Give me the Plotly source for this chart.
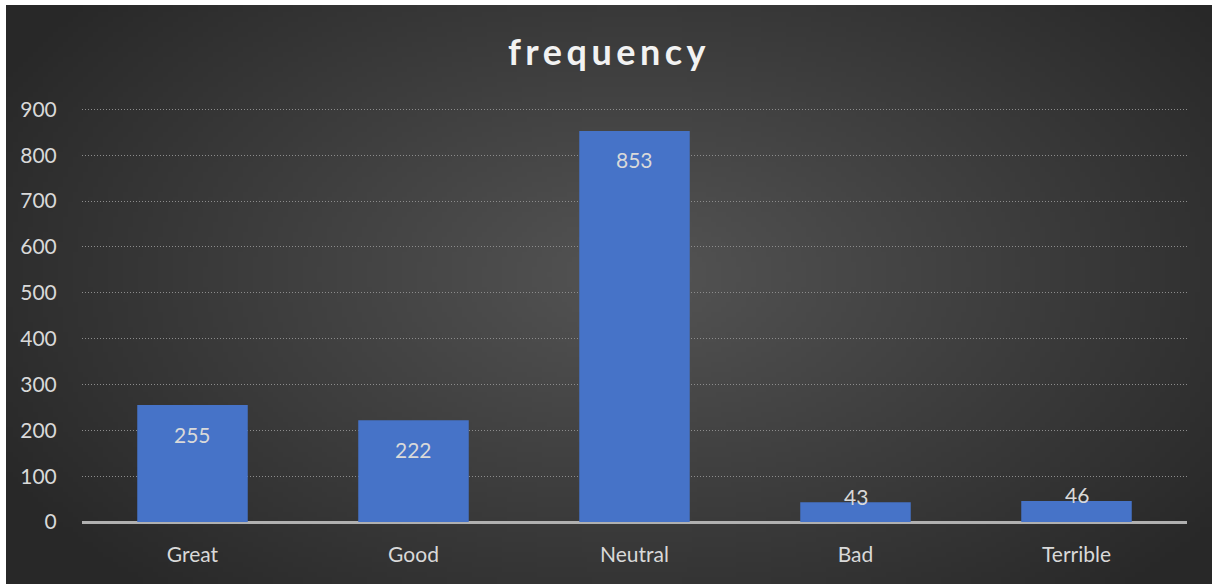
import base64
import struct
import zlib

import plotly.graph_objects as go

# ---- data ----
categories = ["Great", "Good", "Neutral", "Bad", "Terrible"]
frequency = [255, 222, 853, 43, 46]
y_ticks = [0, 100, 200, 300, 400, 500, 600, 700, 800, 900]
title_text = "frequency"

# ---- layout geometry (pixels) ----
W, H = 1212, 584
ML, MR, MT, MB = 82, 25, 108, 62
PW, PH = W - ML - MR, H - MT - MB
FONT = "Lato, Open Sans, sans-serif"


# ---- radial gradient background as a small PNG ----
def make_png(w, h, pixel_fn):
    raw = bytearray()
    for j in range(h):
        raw.append(0)
        for i in range(w):
            raw.extend(pixel_fn(i, j))

    def chunk(tag, data):
        c = struct.pack(">I", len(data)) + tag + data
        return c + struct.pack(">I", zlib.crc32(tag + data) & 0xFFFFFFFF)

    png = b"\x89PNG\r\n\x1a\n"
    png += chunk(b"IHDR", struct.pack(">IIBBBBB", w, h, 8, 2, 0, 0, 0))
    png += chunk(b"IDAT", zlib.compress(bytes(raw), 9))
    png += chunk(b"IEND", b"")
    return "data:image/png;base64," + base64.b64encode(png).decode()


GW, GH = 242, 116
BG_X0, BG_Y0 = 6, 5  # white sliver on top/left
BG_W, BG_H = W - BG_X0, H - BG_Y0


def bg_pixel(i, j):
    x = (i + 0.5) / GW * BG_W
    y = (j + 0.5) / GH * BG_H
    dx = (x - 630) / 720.0
    dy = (y - 270) / 430.0
    t = min(1.0, (dx * dx + dy * dy) ** 0.5)
    c0, c1 = 84, 40
    v = int(round(c0 + (c1 - c0) * t))
    return (v, v, v)


bg_src = make_png(GW, GH, bg_pixel)

fig = go.Figure()

fig.add_trace(
    go.Bar(
        x=categories,
        y=frequency,
        width=0.5,
        marker=dict(color="#4673c8", line=dict(width=0)),
        hoverinfo="x+y",
    )
)

# data labels (Excel "inside end" style)
for cat, val in zip(categories, frequency):
    inside = val > 100
    fig.add_annotation(
        x=cat,
        y=val,
        xref="x",
        yref="y",
        text=str(val),
        showarrow=False,
        yanchor="middle",
        yshift=-29 if inside else 6,
        font=dict(family=FONT, size=21, color="#d9d9d9"),
    )

fig.add_layout_image(
    dict(
        source=bg_src,
        xref="paper",
        yref="paper",
        x=(BG_X0 - ML) / PW,
        y=(PH + MT - BG_Y0) / PH,
        sizex=BG_W / PW,
        sizey=BG_H / PH,
        xanchor="left",
        yanchor="top",
        sizing="stretch",
        layer="below",
    )
)

fig.update_layout(
    width=W,
    height=H,
    margin=dict(l=ML, r=MR, t=MT, b=MB, pad=0),
    paper_bgcolor="#ffffff",
    plot_bgcolor="rgba(0,0,0,0)",
    showlegend=False,
    title=dict(
        text='<b><span style="letter-spacing:4.5px">' + title_text + "</span></b>",
        x=0.5 + 3 / W,
        xref="container",
        xanchor="center",
        y=1 - 52 / H,
        yanchor="middle",
        font=dict(family=FONT, size=36, color="#f2f2f2"),
    ),
    xaxis=dict(
        showgrid=False,
        showline=False,
        zeroline=False,
        ticks="outside",
        ticklen=14,
        tickcolor="rgba(0,0,0,0)",
        tickfont=dict(family=FONT, size=21, color="#d9d9d9"),
    ),
    yaxis=dict(
        range=[0, 903],
        tickvals=y_ticks,
        showgrid=True,
        gridcolor="#8c8c8c",
        griddash="1px,2px",
        gridwidth=1,
        zeroline=True,
        zerolinecolor="#b0b0b0",
        zerolinewidth=3,
        showline=False,
        ticks="outside",
        ticklen=20,
        tickcolor="rgba(0,0,0,0)",
        tickfont=dict(family=FONT, size=21, color="#d9d9d9"),
    ),
)

fig.write_html(
    "out.html",
    config={"displayModeBar": False},
    post_script="document.body.style.margin='0px';document.body.style.padding='0px';",
)
